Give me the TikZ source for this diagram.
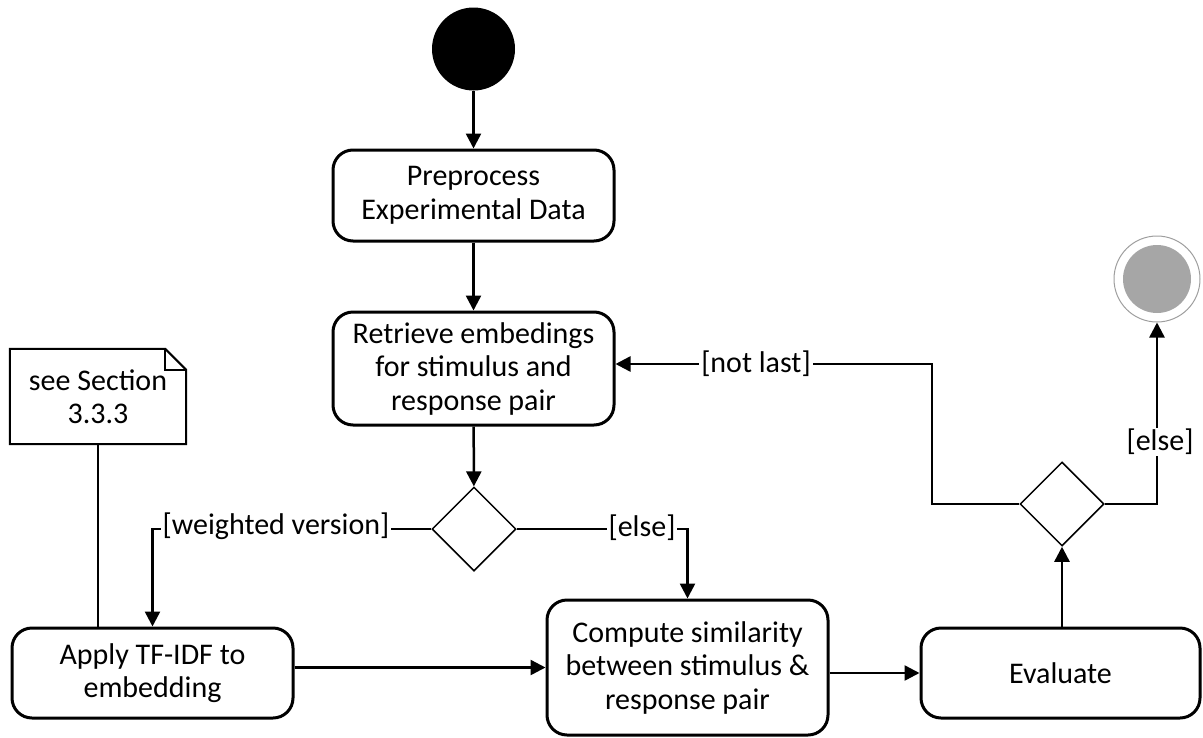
\documentclass[tikz,border=0pt]{standalone}
\usepackage{fontspec}
\setmainfont{Carlito}
\usetikzlibrary{arrows.meta,shapes.geometric}
\begin{document}
\begin{tikzpicture}[x=1pt,y=-1pt,
  every node/.style={font=\fontsize{30}{33.5}\selectfont, align=center},
  act/.style={draw, line width=3pt, rounded corners=20pt, minimum width=281pt, inner sep=0pt},
  dec/.style={draw, diamond, line width=1.5pt, minimum width=84pt, minimum height=84pt, inner sep=0pt, aspect=1},
  flow/.style={line width=2.5pt, -{Triangle[width=15pt,length=15pt]}},
  plain/.style={line width=2.5pt},
  guard/.style={fill=white, inner xsep=2pt, inner ysep=1pt}]
\useasboundingbox (0,0) rectangle (1203,737);

\node[circle, fill=black, minimum size=83pt, inner sep=0pt] (start) at (473.5,49) {};
\node[act, minimum height=91pt] (pre) at (473.5,195.5) {Preprocess\\Experimental Data};
\node[act, minimum height=113pt] (ret) at (473.5,368.5) {Retrieve embedings\\for stimulus and\\response pair};
\node[dec] (d1) at (474,529) {};
\node[act, minimum height=90pt] (tfidf) at (152.5,673) {Apply TF-IDF to\\embedding};
\node[act, minimum height=135pt] (comp) at (687.5,667.5) {Compute similarity\\between stimulus \&\\response pair};
\node[act, minimum width=279pt, minimum height=90pt] (eval) at (1060.5,673) {Evaluate};
\node[dec] (d2) at (1062,504) {};
\node[circle, draw=black!38, line width=1pt, minimum size=86pt, inner sep=0pt] (endo) at (1157,279) {};
\node[circle, fill=black!35, minimum size=68pt, inner sep=0pt] (endi) at (1157,279) {};

% note
\node[minimum width=176pt, minimum height=95pt, inner sep=0pt] (note) at (98,396.5) {see Section\\3.3.3};
\draw[line width=2pt] (note.north west) -- ([xshift=-21pt]note.north east) -- ([yshift=-21pt]note.north east) -- (note.south east) -- (note.south west) -- cycle;
\draw[line width=1.5pt] ([xshift=-21pt]note.north east) -- ([xshift=-21pt,yshift=-21pt]note.north east) -- ([yshift=-21pt]note.north east);
\draw[plain] (note.south) -- (note.south |- tfidf.north);

% flows
\draw[flow] (start) -- (pre);
\draw[flow] (pre) -- (ret);
\draw[flow] (ret) -- (d1);
\draw[flow] (d1.west) -| (tfidf.north);
\node[guard] (gw) at (276,526) {[weighted version]};
\draw[flow] (d1.east) -| (comp.north);
\node[guard] (ge) at (642,528) {[else]};
\draw[flow] (tfidf.east |- comp.west) -- (comp.west);
\draw[flow] (comp.east |- eval.west) -- (eval.west);
\draw[flow] (eval.north -| d2.south) -- (d2.south);
\draw[flow] (d2.west) -- (932,504) -- (932,364) -- (ret.east |- 0,364);
\node[guard] (gn) at (756,364) {[not last]};
\draw[flow] (d2.east) -| (endo.south);
\node[guard] (ge2) at (1160,442) {[else]};
\end{tikzpicture}
\end{document}
